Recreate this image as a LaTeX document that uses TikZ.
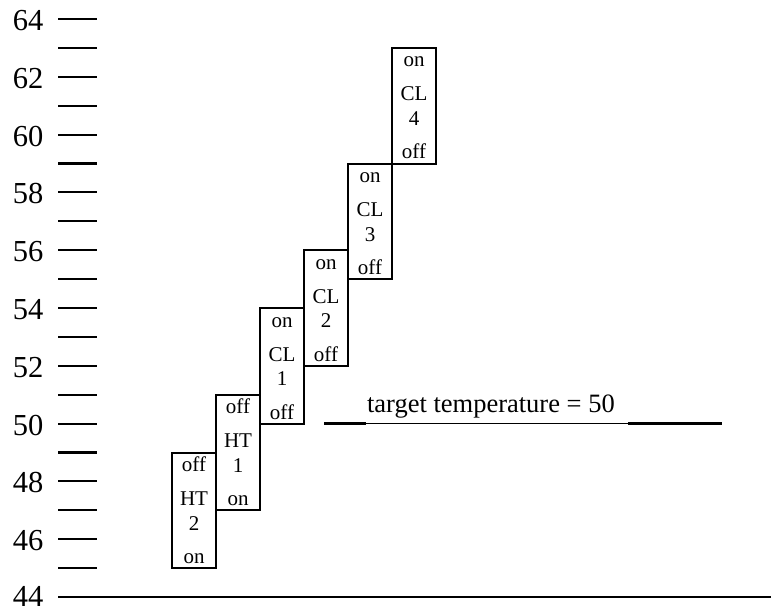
\documentclass[tikz,border=0pt]{standalone}
\usepackage{fontspec}
\setmainfont[Ligatures=NoCommon]{Liberation Serif}
\usetikzlibrary{calc}
\begin{document}
\begin{tikzpicture}[x=1pt,y=-1pt,line width=2.1pt,
  box/.style={draw,line width=2pt,minimum width=44pt,minimum height=115.6pt,inner sep=0pt},
  boxtxt/.style={font=\fontsize{21}{25}\selectfont,anchor=base,inner sep=0pt},
  axlabel/.style={font=\fontsize{30.5}{36}\selectfont,inner sep=0pt},
  tgt/.style={font=\fontsize{26.5}{31}\selectfont,inner sep=0pt,anchor=base west}]
\useasboundingbox (0,0) rectangle (773,608);
% ticks
\foreach \t in {45,...,64}{
  \pgfmathsetmacro\yy{597-(\t-44)*28.9}
  \coordinate (tickL\t) at (58,\yy);
  \coordinate (tickR\t) at (97,\yy);
  \draw (tickL\t) -- (tickR\t);
}
% labels
\foreach \t in {46,48,...,64}{
  \pgfmathsetmacro\yy{597-(\t-44)*28.9+1.5}
  \node[axlabel] (lab\t) at (28,\yy) {\t};
}
\node[axlabel] (lab44) at (28,596.5) {44};
\coordinate (axL) at (58,597);
\coordinate (axR) at (771,597);
\draw (axL) -- (axR);
% boxes
\foreach \n/\lab/\num/\xl/\tt/\wt/\wb in {ht2/HT/2/172/49/off/on,ht1/HT/1/216/51/off/on,cl1/CL/1/260/54/on/off,cl2/CL/2/304/56/on/off,cl3/CL/3/348/59/on/off,cl4/CL/4/392/63/on/off}{
  \pgfmathsetmacro\cy{597-(\tt-44)*28.9+57.8}
  \pgfmathsetmacro\cx{\xl+22}
  \node[box] (\n) at (\cx,\cy) {};
  \node[boxtxt] (\n top) at ($(\n.north)+(0,20)$) {\wt};
  \node[boxtxt] (\n name) at ($(\n.north)+(0,54)$) {\lab};
  \node[boxtxt] (\n num) at ($(\n.north)+(0,78.5)$) {\num};
  \node[boxtxt] (\n bot) at ($(\n.north)+(0,112)$) {\wb};
}
% target line
\coordinate (tl) at (324,423.5);
\coordinate (ta) at (366,423.5);
\coordinate (tb) at (628,423.5);
\coordinate (tr) at (722,423.5);
\draw[line width=1pt] (tl) -- (tr);
\draw (tl) -- (ta);
\draw (tb) -- (tr);
\node[tgt] (target) at (366,412) {target temperature = 50};
\end{tikzpicture}
\end{document}
